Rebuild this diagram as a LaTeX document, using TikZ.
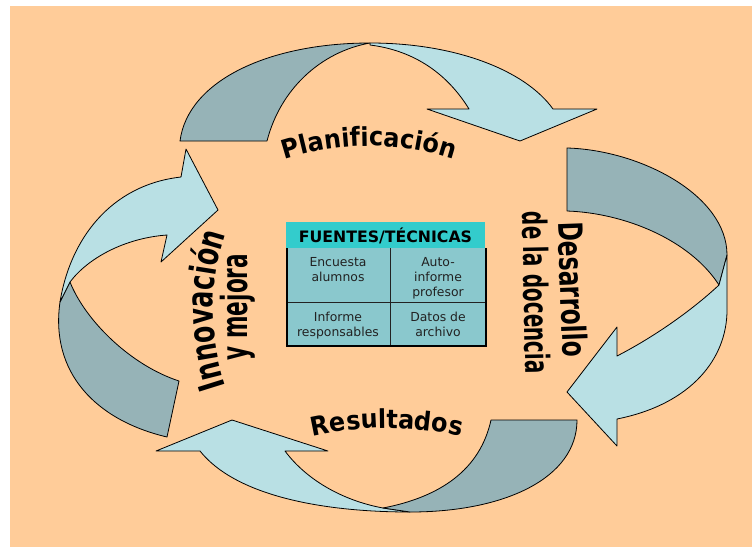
\documentclass[tikz,border=0pt]{standalone}
\usepackage{fontspec}
\setmainfont{DejaVu Sans}
\newfontfamily\capfont[FakeStretch=0.92]{DejaVu Sans}
\newfontfamily\sidefont[FakeStretch=0.7]{DejaVu Sans}
\newfontfamily\narrowfont[FakeStretch=0.6]{DejaVu Sans}
\usetikzlibrary{decorations.text}
\definecolor{peach}{RGB}{255,204,153}
\definecolor{ribdark}{RGB}{150,179,183}
\definecolor{riblight}{RGB}{185,224,228}
\definecolor{headfill}{RGB}{51,204,204}
\definecolor{cellfill}{RGB}{138,200,205}
\definecolor{celltext}{RGB}{34,34,34}
\begin{document}
\begin{tikzpicture}[x=0.75pt,y=0.75pt,
  back/.style={draw=black,line width=0.6pt,fill=ribdark,line join=round},
  front/.style={draw=black,line width=0.6pt,fill=riblight,line join=round},
  cell/.style={anchor=north,inner sep=0pt,align=center,text=celltext,font=\fontsize{9.3}{11.4}\selectfont},
  arcword/.style={decorate,decoration={text along path,text align=center,text={#1}}}]
\useasboundingbox (0,0) rectangle (752,-547);
%Shape: background
\fill [peach] (10,-6) rectangle (752,-547);

%Curve Arrow top
\draw [back] (180,-141) .. controls (188,-80) and (270,-43) .. (370,-43) .. controls (320,-52) and (280,-90) .. (267,-141) -- cycle;
\draw [front] (370,-43) .. controls (455,-43) and (525,-70) .. (553,-109) -- (597,-109) -- (520,-141) -- (427,-109) -- (469,-109) .. controls (445,-70) and (410,-50) .. (370,-45) -- cycle;

%Curve Arrow right
\draw [back] (567,-148) .. controls (640,-150) and (727,-195) .. (727,-255) -- (719,-285) .. controls (690,-240) and (625,-213) .. (567,-211) -- cycle;
\draw [front] (727,-255) -- (727,-310) .. controls (727,-358) and (692,-404) .. (617,-419) -- (617,-446) -- (567,-392) -- (617,-327) -- (617,-356) .. controls (652,-338) and (690,-312) .. (719,-285) -- cycle;

%Curve Arrow bottom
\draw [front] (410,-512) .. controls (320,-512) and (235,-495) .. (200,-451) -- (156,-451) -- (232,-420) -- (328,-451) -- (285,-451) .. controls (305,-478) and (340,-500) .. (383,-508) -- cycle;
\draw [back] (577,-420) .. controls (577,-478) and (505,-512) .. (410,-512) -- (383,-508) .. controls (440,-497) and (480,-470) .. (491,-420) -- cycle;

%Curve Arrow left
\draw [back] (179,-381) -- (167,-437) .. controls (95,-420) and (50,-372) .. (60,-302) -- (70,-282) .. controls (85,-320) and (130,-365) .. (179,-381) -- cycle;
\draw [front] (60,-302) .. controls (70,-240) and (110,-185) .. (181,-177) -- (186,-149) -- (218,-210) -- (161,-262) -- (167,-235) .. controls (125,-238) and (88,-258) .. (70,-282) -- cycle;

%Table
\fill [headfill] (286,-222) rectangle (485,-248);
\fill [cellfill] (287,-248) rectangle (486,-346);
\draw [line width=0.75pt,draw=celltext] (390,-248) -- (390,-346) (287,-302) -- (486,-302);
\draw [line width=1.6pt] (287,-248) -- (287,-346) -- (486,-346) -- (486,-248);

% Text Node
\node (head) at (385.5,-235.5) {\bfseries\fontsize{11.8}{14}\selectfont FUENTES/TÉCNICAS};
% Text Node
\node (enc) [cell] at (338,-257) {Encuesta\\alumnos};
% Text Node
\node (auto) [cell] at (438,-257) {Auto-\\informe\\profesor};
% Text Node
\node (inf) [cell] at (338,-312) {Informe\\responsables};
% Text Node
\node (dat) [cell] at (438,-312) {Datos de\\archivo};

% Curved Text
\path [arcword={|\capfont\bfseries\fontsize{19.5}{20}\selectfont|Planificación}] (254.9,-171.3) arc[start angle=115,end angle=65,radius=270];
\path [arcword={|\capfont\bfseries\fontsize{19.5}{20}\selectfont|Resultados}] (301.6,-439.3) arc[start angle=105,end angle=75,radius=330];
\path [arcword={|\sidefont\bfseries\fontsize{27}{27}\selectfont|Innovación}] (245.2,-430) arc[start angle=210,end angle=150,radius=240];
\path [arcword={|\narrowfont\bfseries\fontsize{27}{27}\selectfont|y mejora}] (247,-407) -- (247,-207);
\path [arcword={|\sidefont\bfseries\fontsize{25}{25}\selectfont|Desarrollo}] (557,-195) -- (564,-385);
\path [arcword={|\narrowfont\bfseries\fontsize{25}{25}\selectfont|de la docencia}] (522,-193) -- (526,-393);

\end{tikzpicture}
\end{document}
